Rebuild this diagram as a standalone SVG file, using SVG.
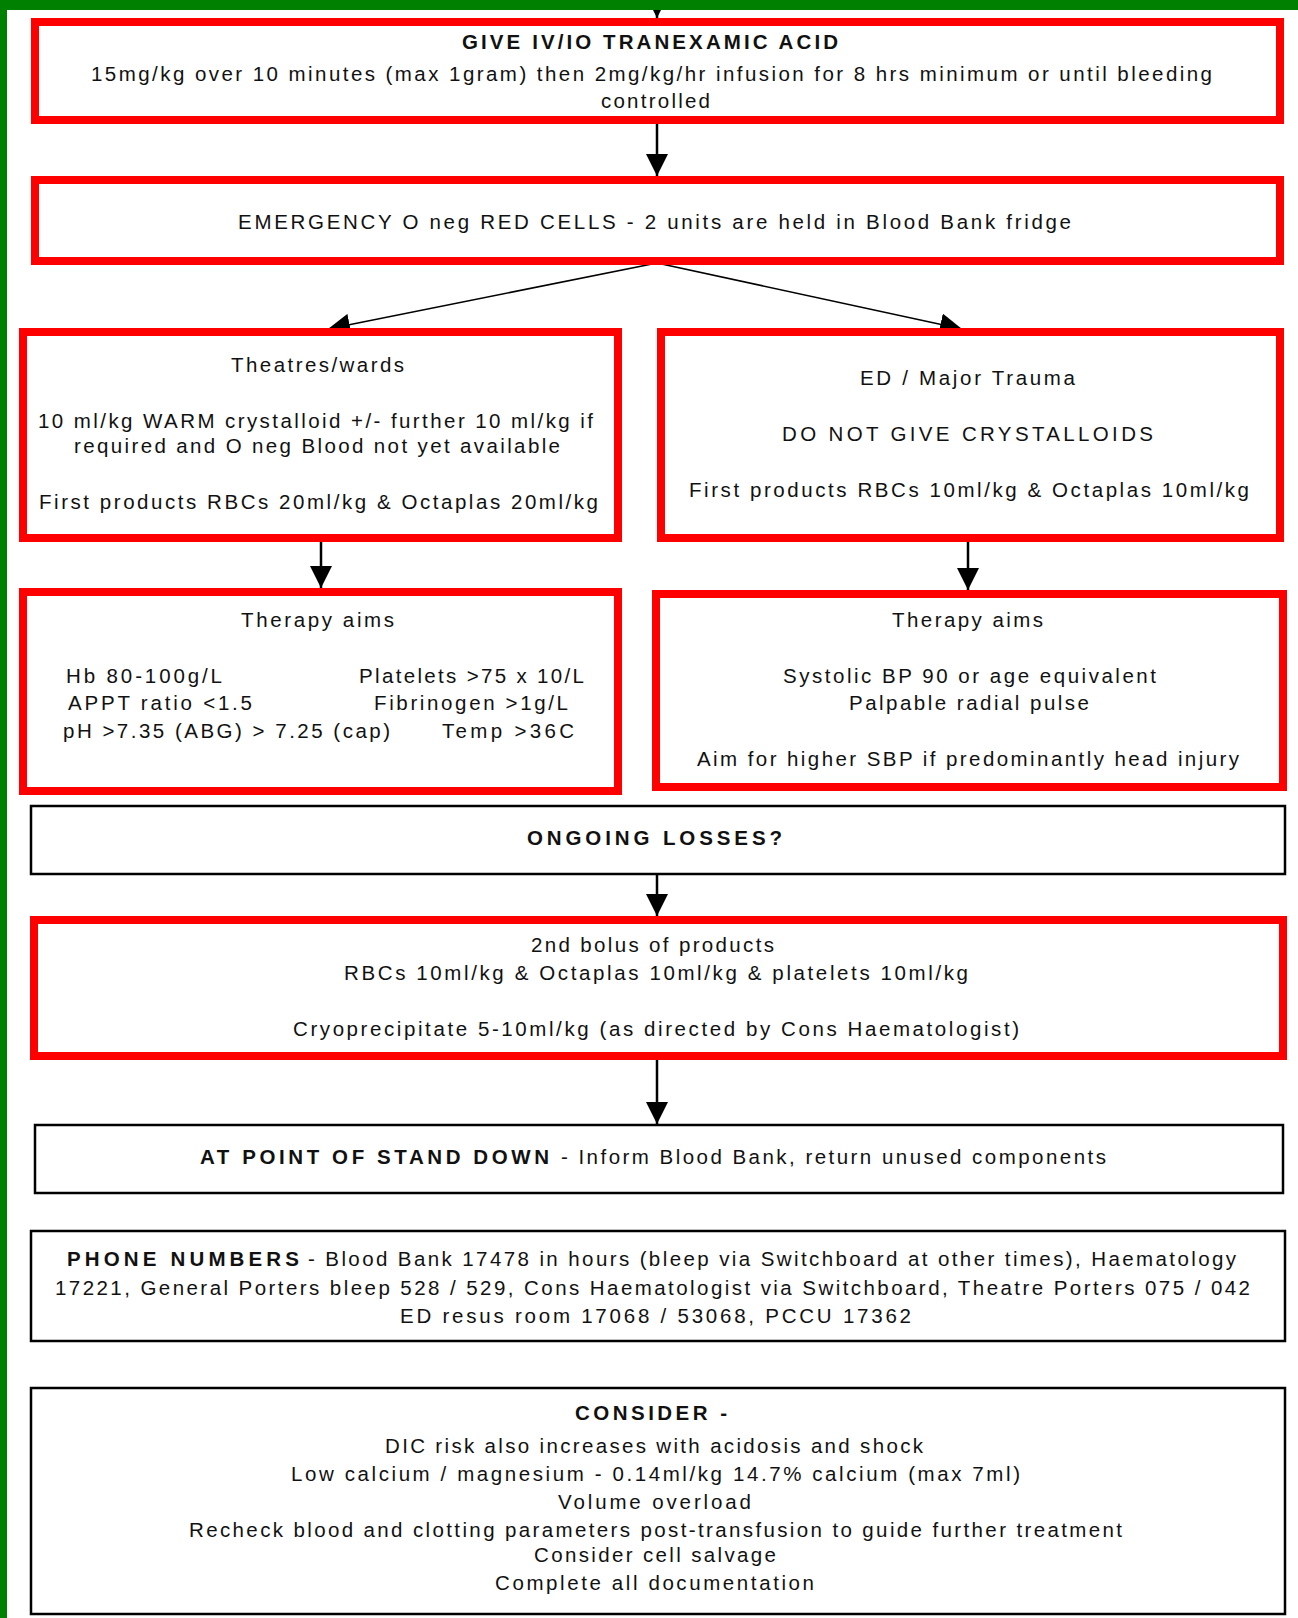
<svg xmlns="http://www.w3.org/2000/svg" width="1298" height="1618" viewBox="0 0 1298 1618">
  <style>
    .red { fill: #ffffff; stroke: #ff0000; stroke-width: 8; }
    .blk { fill: #ffffff; stroke: #000000; stroke-width: 2.5; }
    text { font-family: "Liberation Sans", Arial, sans-serif; font-size: 20.5px; fill: #111111; }
    .b { font-weight: bold; }
    .conn { stroke: #000000; stroke-width: 2.5; fill: none; }
    .thin { stroke: #000000; stroke-width: 1.6; fill: none; }
  </style>
  <defs>
    <marker id="head" markerUnits="userSpaceOnUse" markerWidth="22" markerHeight="22" refX="22" refY="11" orient="auto">
      <path d="M0,0 L22,11 L0,22 Z" fill="#000000"/>
    </marker>
  </defs>

  <rect x="0" y="0" width="1298" height="1618" fill="#ffffff"/>

  <!-- connectors -->
  <g id="connectors">
    <line class="conn" x1="657" y1="-6" x2="657" y2="18" marker-end="url(#head)"/>
    <line class="conn" x1="657" y1="124" x2="657" y2="176" marker-end="url(#head)"/>
    <line class="thin" x1="657" y1="263" x2="328" y2="329" marker-end="url(#head)"/>
    <line class="thin" x1="657" y1="263" x2="962" y2="329" marker-end="url(#head)"/>
    <line class="conn" x1="321" y1="542" x2="321" y2="588" marker-end="url(#head)"/>
    <line class="conn" x1="968" y1="542" x2="968" y2="590" marker-end="url(#head)"/>
    <line class="conn" x1="657" y1="875" x2="657" y2="916" marker-end="url(#head)"/>
    <line class="conn" x1="657" y1="1060" x2="657" y2="1124" marker-end="url(#head)"/>
  </g>

  <!-- green page frame -->
  <rect x="0" y="0" width="1298" height="10" fill="#008000"/>
  <rect x="0" y="0" width="7" height="1618" fill="#008000"/>

  <g id="tranexamic">
    <rect class="red" x="35" y="22" width="1245" height="98"/>
    <text class="b" x="462" y="49" textLength="376" lengthAdjust="spacing">GIVE IV/IO TRANEXAMIC ACID</text>
    <text x="91" y="81" textLength="1121" lengthAdjust="spacing">15mg/kg over 10 minutes (max 1gram) then 2mg/kg/hr infusion for 8 hrs minimum or until bleeding</text>
    <text x="601" y="108" textLength="109" lengthAdjust="spacing">controlled</text>
  </g>

  <g id="emergency">
    <rect class="red" x="35" y="180" width="1245" height="81"/>
    <text x="238" y="229" textLength="833" lengthAdjust="spacing">EMERGENCY O neg RED CELLS - 2 units are held in Blood Bank fridge</text>
  </g>

  <g id="theatres">
    <rect class="red" x="23" y="332" width="595" height="206"/>
    <text x="231" y="372" textLength="173" lengthAdjust="spacing">Theatres/wards</text>
    <text x="38" y="428" textLength="555" lengthAdjust="spacing">10 ml/kg WARM crystalloid +/- further 10 ml/kg if</text>
    <text x="74" y="453" textLength="486" lengthAdjust="spacing">required and O neg Blood not yet available</text>
    <text x="39" y="509" textLength="559" lengthAdjust="spacing">First products RBCs 20ml/kg &amp; Octaplas 20ml/kg</text>
  </g>

  <g id="ed-trauma">
    <rect class="red" x="661" y="332" width="619" height="206"/>
    <text x="860" y="385" textLength="215" lengthAdjust="spacing">ED / Major Trauma</text>
    <text x="782" y="441" textLength="371" lengthAdjust="spacing">DO NOT GIVE CRYSTALLOIDS</text>
    <text x="689" y="497" textLength="560" lengthAdjust="spacing">First products RBCs 10ml/kg &amp; Octaplas 10ml/kg</text>
  </g>

  <g id="aims-theatres">
    <rect class="red" x="23" y="592" width="595" height="199"/>
    <text x="241" y="627" textLength="153" lengthAdjust="spacing">Therapy aims</text>
    <text x="66" y="683" textLength="156" lengthAdjust="spacing">Hb 80-100g/L</text>
    <text x="359" y="683" textLength="225" lengthAdjust="spacing">Platelets &gt;75 x 10/L</text>
    <text x="68" y="710" textLength="184" lengthAdjust="spacing">APPT ratio &lt;1.5</text>
    <text x="374" y="710" textLength="194" lengthAdjust="spacing">Fibrinogen &gt;1g/L</text>
    <text x="63" y="738" textLength="327" lengthAdjust="spacing">pH &gt;7.35 (ABG) &gt; 7.25 (cap)</text>
    <text x="442" y="738" textLength="132" lengthAdjust="spacing">Temp &gt;36C</text>
  </g>

  <g id="aims-ed">
    <rect class="red" x="656" y="594" width="627" height="193"/>
    <text x="892" y="627" textLength="151" lengthAdjust="spacing">Therapy aims</text>
    <text x="783" y="683" textLength="373" lengthAdjust="spacing">Systolic BP 90 or age equivalent</text>
    <text x="849" y="710" textLength="240" lengthAdjust="spacing">Palpable radial pulse</text>
    <text x="697" y="766" textLength="542" lengthAdjust="spacing">Aim for higher SBP if predominantly head injury</text>
  </g>

  <g id="ongoing">
    <rect class="blk" x="31" y="806" width="1254" height="68"/>
    <text class="b" x="527" y="845" textLength="255" lengthAdjust="spacing">ONGOING LOSSES?</text>
  </g>

  <g id="second-bolus">
    <rect class="red" x="34" y="920" width="1249" height="136"/>
    <text x="531" y="952" textLength="243" lengthAdjust="spacing">2nd bolus of products</text>
    <text x="344" y="980" textLength="624" lengthAdjust="spacing">RBCs 10ml/kg &amp; Octaplas 10ml/kg &amp; platelets 10ml/kg</text>
    <text x="293" y="1036" textLength="726" lengthAdjust="spacing">Cryoprecipitate 5-10ml/kg (as directed by Cons Haematologist)</text>
  </g>

  <g id="stand-down">
    <rect class="blk" x="35" y="1125" width="1248" height="68"/>
    <text class="b" x="200" y="1164" textLength="349" lengthAdjust="spacing">AT POINT OF STAND DOWN</text>
    <text x="561" y="1164" textLength="545" lengthAdjust="spacing">- Inform Blood Bank, return unused components</text>
  </g>

  <g id="phone-numbers">
    <rect class="blk" x="31" y="1231" width="1254" height="110"/>
    <text class="b" x="67" y="1266" textLength="232" lengthAdjust="spacing">PHONE NUMBERS</text>
    <text x="308" y="1266" textLength="928" lengthAdjust="spacing">- Blood Bank 17478 in hours (bleep via Switchboard at other times), Haematology</text>
    <text x="55" y="1295" textLength="1195" lengthAdjust="spacing">17221, General Porters bleep 528 / 529, Cons Haematologist via Switchboard, Theatre Porters 075 / 042</text>
    <text x="400" y="1323" textLength="511" lengthAdjust="spacing">ED resus room 17068 / 53068, PCCU 17362</text>
  </g>

  <g id="consider">
    <rect class="blk" x="31" y="1388" width="1254" height="226"/>
    <text class="b" x="575" y="1420" textLength="152" lengthAdjust="spacing">CONSIDER -</text>
    <text x="385" y="1453" textLength="538" lengthAdjust="spacing">DIC risk also increases with acidosis and shock</text>
    <text x="291" y="1481" textLength="729" lengthAdjust="spacing">Low calcium / magnesium - 0.14ml/kg 14.7% calcium (max 7ml)</text>
    <text x="558" y="1509" textLength="193" lengthAdjust="spacing">Volume overload</text>
    <text x="189" y="1537" textLength="933" lengthAdjust="spacing">Recheck blood and clotting parameters post-transfusion to guide further treatment</text>
    <text x="534" y="1562" textLength="242" lengthAdjust="spacing">Consider cell salvage</text>
    <text x="495" y="1590" textLength="319" lengthAdjust="spacing">Complete all documentation</text>
  </g>
</svg>
